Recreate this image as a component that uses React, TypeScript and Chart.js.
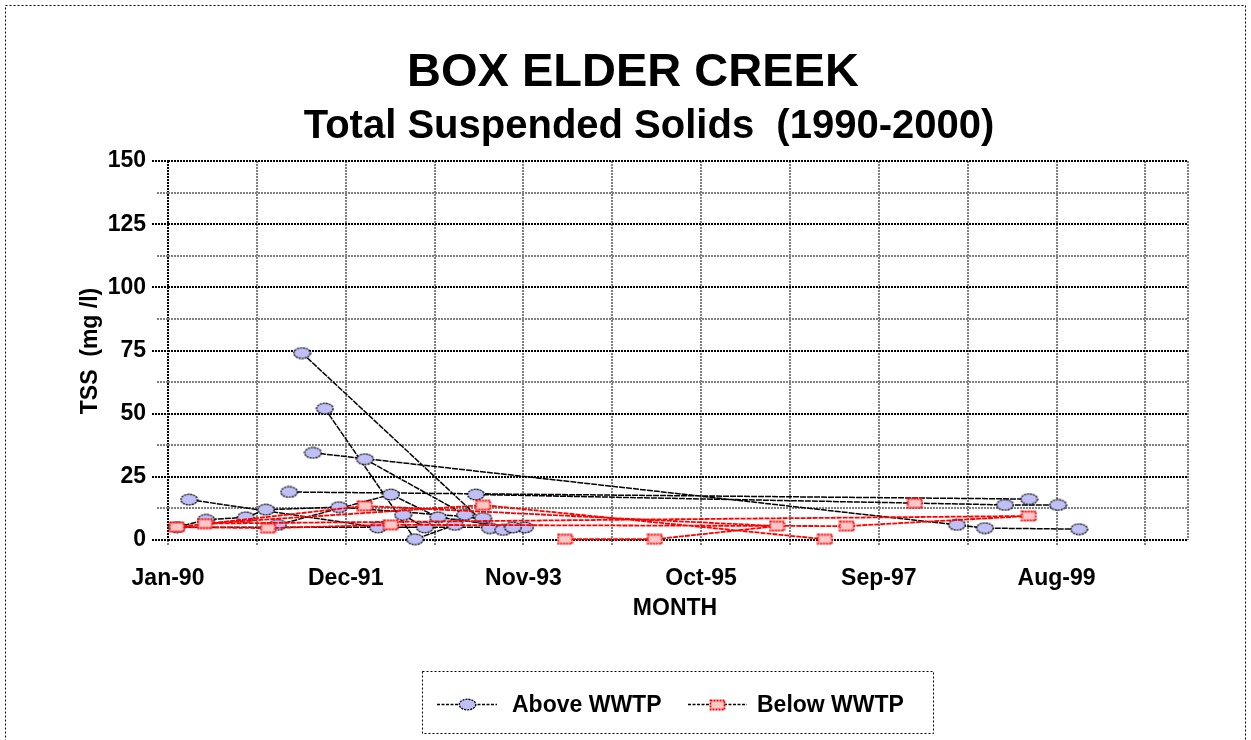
import React, { useEffect, useRef } from "react";
import { Chart, registerables } from "chart.js";

Chart.register(...registerables);

// ---------- data ----------
const BASE_DATE = "1990-01-01";
const X_MAX_DATE = "2001-01-01";
const X_TICK_STEP_DAYS = 350;
const X_LABEL_STEP_DAYS = 700;

const Y_MIN = 0;
const Y_MAX = 150;
const Y_STEP = 12.5;
const Y_LABEL_STEP = 25;

const MONTH_NAMES = ["Jan", "Feb", "Mar", "Apr", "May", "Jun", "Jul", "Aug", "Sep", "Oct", "Nov", "Dec"];

const TITLE = "BOX ELDER CREEK";
const SUBTITLE = "Total Suspended Solids  (1990-2000)";
const X_TITLE = "MONTH";
const Y_TITLE = "TSS  (mg /l)";
const SERIES_NAMES = ["Above WWTP", "Below WWTP"];

// Above WWTP: sampling date and TSS; null marks a break in the connecting line
const aboveDates = [
  "1991-06-13", "1993-06-22", "",
  "1991-09-11", "1992-08-31", "1993-02-05", "",
  "1991-07-26", "1998-07-06", "1998-10-24", "1999-10-30", "",
  "1992-02-16", "1993-03-16", "1993-08-13", "",
  "1991-04-23", "1999-04-16", "",
  "1993-04-28", "1999-01-11", "1999-08-08", "",
  "1990-03-25", "1992-04-07", "1993-11-07", "",
  "1992-07-15", "1992-10-09", "1990-02-05", "1990-05-31", "1990-11-04", "1991-01-22", "1991-11-06", "1993-05-26", "",
  "1991-03-10", "1992-05-28", "1992-11-30", "1993-09-21",
];
const aboveTSS: (number | null)[] = [
  74, 4.7, null,
  52, 0.3, 6, null,
  34.5, 6, 4.7, 4.3, null,
  32, 10, 4, null,
  19, 16.2, null,
  18, 13.9, 13.9, null,
  16, 5, 5, null,
  9.9, 5, 5.1, 8, 9, 12, 13, 8.7, null,
  6, 18, 9, 5,
];

// Below WWTP
const belowDates = [
  "1994-04-14", "1995-04-03", "1996-07-27", "1992-02-16", "1990-02-05", "1991-01-30",
  "1992-05-28", "1997-04-28", "1999-04-15", "1990-05-27", "1993-05-26", "1997-02-01",
  "", "1998-01-21",
];
const belowTSS: (number | null)[] = [
  0.3, 0.3, 5.5, 13.5, 5.1, 4.7,
  6.0, 5.5, 9.5, 6.5, 13.8, 0.3,
  null, 14.5,
];

// ---------- helpers ----------
const DAY = 86400000;
const toDays = (d: string) => (Date.parse(d) - Date.parse(BASE_DATE)) / DAY;
const X_MAX = toDays(X_MAX_DATE);

const FONT = "'Liberation Sans', Arial, Helvetica, sans-serif";

function makeEllipse(): HTMLCanvasElement {
  const c = document.createElement("canvas");
  c.width = 19;
  c.height = 13;
  const g = c.getContext("2d")!;
  g.beginPath();
  g.ellipse(9.5, 6.5, 8.3, 5.3, 0, 0, Math.PI * 2);
  g.fillStyle = "#C0C0F8";
  g.fill();
  g.lineWidth = 1.3;
  g.strokeStyle = "#000";
  g.setLineDash([2, 1]);
  g.stroke();
  return c;
}

function makeRect(): HTMLCanvasElement {
  const c = document.createElement("canvas");
  c.width = 17;
  c.height = 12;
  const g = c.getContext("2d")!;
  g.fillStyle = "#FFC8C8";
  g.fillRect(1.5, 1.5, 14, 9);
  g.lineWidth = 1.8;
  g.strokeStyle = "#FF0000";
  g.setLineDash([2, 1]);
  g.strokeRect(1.5, 1.5, 14, 9);
  return c;
}

function fmtTick(v: number): string {
  const d = new Date(Date.parse(BASE_DATE) + v * DAY);
  const yy = String(d.getUTCFullYear() % 100).padStart(2, "0");
  return `${MONTH_NAMES[d.getUTCMonth()]}-${yy}`;
}

function toPoints(dates: string[], vals: (number | null)[]) {
  let last = 0;
  return dates.map((d, i) => {
    if (vals[i] === null || d === "") return { x: last, y: null as any };
    last = toDays(d);
    return { x: last, y: vals[i] as number };
  });
}

const GRID_GRAY = "#808080";

export default function App() {
  const ref = useRef<HTMLCanvasElement | null>(null);

  useEffect(() => {
    if (!ref.current) return;
    const ellipse = makeEllipse();
    const rect = makeRect();

    const aboveData = toPoints(aboveDates, aboveTSS);
    const belowData = toPoints(belowDates, belowTSS);

    const xTicks: number[] = [];
    for (let v = 0; v < X_MAX; v += X_TICK_STEP_DAYS) xTicks.push(v);

    const chrome = {
      id: "chrome",
      beforeDraw(chart: any) {
        const { ctx, width, height } = chart;
        ctx.save();
        ctx.fillStyle = "#fff";
        ctx.fillRect(0, 0, width, height);
        ctx.strokeStyle = "#000";
        ctx.lineWidth = 1;
        ctx.setLineDash([2, 2]);
        ctx.strokeRect(5.5, 5.5, 1240, 800);
        ctx.restore();
      },
      afterDraw(chart: any) {
        const { ctx, chartArea: ca } = chart;
        const ys = chart.scales.y;
        ctx.save();
        ctx.lineWidth = 2;
        ctx.setLineDash([2, 1]);
        // right plot border
        ctx.strokeStyle = GRID_GRAY;
        ctx.beginPath();
        ctx.moveTo(Math.round(ca.right), ca.top);
        ctx.lineTo(Math.round(ca.right), ca.bottom);
        ctx.stroke();
        // y tick marks
        ys.ticks.forEach((t: any) => {
          const major = t.value % Y_LABEL_STEP === 0;
          const py = Math.round(ys.getPixelForValue(t.value));
          ctx.strokeStyle = major ? "#000" : GRID_GRAY;
          ctx.beginPath();
          ctx.moveTo(ca.left - (major ? 16 : 11), py);
          ctx.lineTo(ca.left, py);
          ctx.stroke();
        });
        ctx.setLineDash([]);

        // titles
        ctx.fillStyle = "#000";
        ctx.textAlign = "center";
        ctx.textBaseline = "alphabetic";
        ctx.font = `bold 47px ${FONT}`;
        ctx.fillText(TITLE, 633, 86);
        ctx.font = `bold 40px ${FONT}`;
        ctx.fillText(SUBTITLE, 649, 138);
        ctx.font = `bold 23px ${FONT}`;
        ctx.fillText(X_TITLE, 675, 615);
        ctx.save();
        ctx.translate(97, 351);
        ctx.rotate(-Math.PI / 2);
        ctx.fillText(Y_TITLE, 0, 0);
        ctx.restore();

        // legend
        ctx.setLineDash([2, 2]);
        ctx.lineWidth = 1;
        ctx.strokeStyle = "#000";
        ctx.strokeRect(422.5, 671.5, 511, 62);
        const ly = 704.5;
        const items = [
          { x0: 437, x1: 497, img: ellipse, tx: 512, text: SERIES_NAMES[0] },
          { x0: 688, x1: 747, img: rect, tx: 757, text: SERIES_NAMES[1] },
        ];
        items.forEach((it) => {
          ctx.setLineDash([3, 1.5]);
          ctx.lineWidth = 1.3;
          ctx.strokeStyle = "#000";
          ctx.beginPath();
          ctx.moveTo(it.x0, ly);
          ctx.lineTo(it.x1, ly);
          ctx.stroke();
          const cx = (it.x0 + it.x1) / 2;
          ctx.drawImage(it.img, Math.round(cx - it.img.width / 2), Math.round(ly - it.img.height / 2));
          ctx.textAlign = "left";
          ctx.font = `bold 23px ${FONT}`;
          ctx.fillText(it.text, it.tx, 712);
        });
        ctx.restore();
      },
    };

    const tickFont = { family: FONT, size: 23, weight: "bold" as const };

    const chart = new Chart(ref.current, {
      type: "scatter",
      data: {
        datasets: [
          {
            label: SERIES_NAMES[1],
            data: belowData,
            showLine: true,
            spanGaps: false,
            borderColor: "#FF0000",
            borderWidth: 1.8,
            borderDash: [5, 1],
            pointStyle: rect as any,
            pointRadius: 8,
            pointHoverRadius: 8,
            clip: false as any,
            order: 0,
          },
          {
            label: SERIES_NAMES[0],
            data: aboveData,
            showLine: true,
            spanGaps: false,
            borderColor: "#000",
            borderWidth: 1.5,
            borderDash: [6, 1],
            pointStyle: ellipse as any,
            pointRadius: 8,
            pointHoverRadius: 8,
            clip: false as any,
            order: 1,
          },
        ],
      },
      options: {
        animation: false,
        responsive: false,
        devicePixelRatio: 1,
        events: [],
        layout: { padding: { top: 161, right: 63, bottom: 100, left: 0 } },
        plugins: {
          legend: { display: false },
          title: { display: false },
          tooltip: { enabled: false },
        },
        scales: {
          x: {
            type: "linear",
            min: 0,
            max: X_MAX,
            afterBuildTicks: (s: any) => {
              s.ticks = xTicks.map((v) => ({ value: v }));
            },
            afterFit: (s: any) => {
              s.height = 100;
            },
            ticks: {
              autoSkip: false,
              maxRotation: 0,
              minRotation: 0,
              padding: 19,
              color: "#000",
              font: tickFont,
              callback: (v: any) => (Number(v) % X_LABEL_STEP_DAYS === 0 ? fmtTick(Number(v)) : ""),
            },
            grid: {
              color: (c: any) => (c.tick && c.tick.value === 0 ? "#000" : GRID_GRAY),
              lineWidth: 2,
              drawTicks: true,
              tickLength: 6,
              tickColor: GRID_GRAY,
              tickWidth: 2,
              tickBorderDash: [2, 1],
            },
            border: { display: false, dash: [2, 1] },
          },
          y: {
            type: "linear",
            min: Y_MIN,
            max: Y_MAX,
            afterFit: (s: any) => {
              s.width = 168;
            },
            ticks: {
              stepSize: Y_STEP,
              padding: 22,
              color: "#000",
              font: tickFont,
              callback: (v: any) => (Number(v) % Y_LABEL_STEP === 0 ? String(v) : ""),
            },
            grid: {
              color: (c: any) => (c.tick && c.tick.value % Y_LABEL_STEP === 0 ? "#000" : GRID_GRAY),
              lineWidth: 2,
              drawTicks: false,
            },
            border: { display: false, dash: [2, 1] },
          },
        },
      },
      plugins: [chrome],
    });

    return () => chart.destroy();
  }, []);

  return (
    <div style={{ position: "absolute", left: 0, top: 0, width: 1251, height: 740, overflow: "hidden", background: "#fff" }}>
      <canvas ref={ref} width={1251} height={740} style={{ display: "block" }} />
    </div>
  );
}
